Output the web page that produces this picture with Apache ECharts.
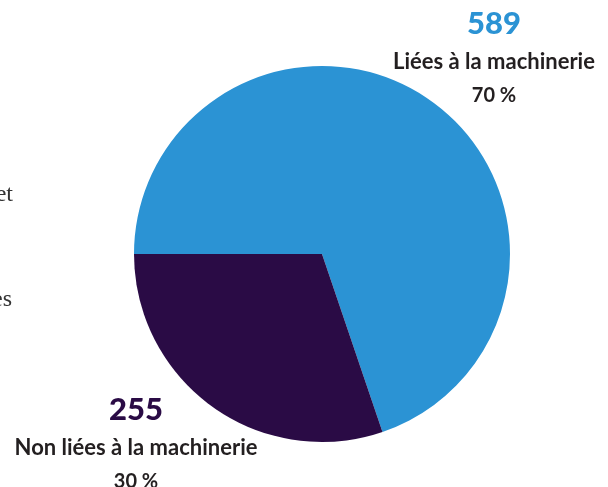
<!DOCTYPE html>
<html>
<head>
<meta charset="utf-8">
<script src="https://cdn.jsdelivr.net/npm/echarts@6/dist/echarts.min.js"></script>
<style>
  html, body { margin: 0; padding: 0; background: #fff; }
  #chart { width: 608px; height: 487px; }
</style>
</head>
<body>
<div id="chart"></div>
<script>
// données
const categories = ['Liées à la machinerie', 'Non liées à la machinerie']
const counts = [589, 255]
const percents = [70, 30]
const colors = ['#2b93d4', '#2a0b45']
// positions des étiquettes (centre, haut du bloc)
const labelPos = [[494, 4], [136, 390]]

const myChart = echarts.init(document.getElementById('chart'))

const option = {
  animation: false,
  graphic: [
    // bouts de texte coupés à gauche
    { type: 'text', x: 13, y: 207, style: { text: 'et', fontSize: 24, fontFamily: 'Liberation Serif', fill: '#333', align: 'right', verticalAlign: 'bottom' } },
    { type: 'text', x: 12, y: 312, style: { text: 'es', fontSize: 24, fontFamily: 'Liberation Serif', fill: '#333', align: 'right', verticalAlign: 'bottom' } }
  ],
  series: [
    {
      type: 'pie',
      center: [322, 254],
      radius: 188,
      startAngle: 180,
      clockwise: true,
      silent: true,
      data: categories.map((name, i) => ({
        name: name,
        value: counts[i],
        itemStyle: { color: colors[i] },
        label: { rich: { num: { color: colors[i] } } }
      })),
      labelLine: { show: false },
      label: {
        show: true,
        position: 'outside',
        overflow: 'none',
        formatter: (p) => '{num|' + counts[p.dataIndex] + '}\n{name|' + p.name + '}\n{pct|' + percents[p.dataIndex] + ' %}',
        rich: {
          num: { fontFamily: 'Lato', fontWeight: 900, fontSize: 31, lineHeight: 40, align: 'center' },
          name: { fontFamily: 'Lato', fontWeight: 'bold', fontSize: 22, lineHeight: 36, color: '#231f20', align: 'center' },
          pct: { fontFamily: 'Lato', fontWeight: 'bold', fontSize: 20, lineHeight: 32, color: '#231f20', align: 'center' }
        }
      },
      labelLayout: (params) => ({
        x: labelPos[params.dataIndex][0],
        y: labelPos[params.dataIndex][1],
        align: 'center',
        verticalAlign: 'top'
      })
    }
  ]
}
myChart.setOption(option)
</script>
</body>
</html>
